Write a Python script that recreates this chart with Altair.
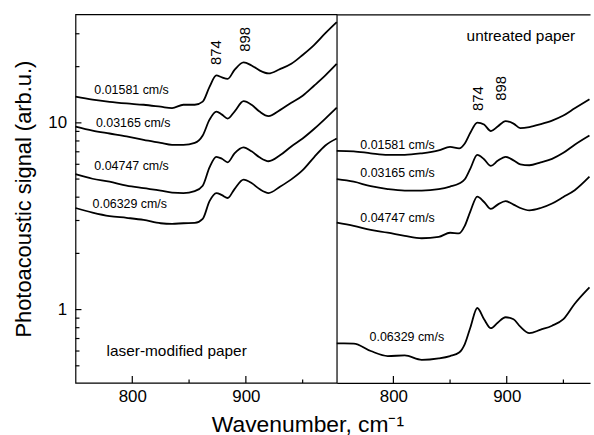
import altair as alt
import pandas as pd

FONT = "Liberation Sans"

# ---------------- data ----------------
speeds = ["0.01581 cm/s", "0.03165 cm/s", "0.04747 cm/s", "0.06329 cm/s"]

# left panel: laser-modified paper
x_left = [750, 765, 780, 795, 810, 825, 835, 845, 855, 862, 868, 874, 879, 884,
          890, 898, 905, 912, 920, 930, 940, 950, 960, 970, 980]
left_01581 = [13.8, 13.3, 12.95, 12.7, 12.5, 12.2, 12.0, 12.5, 12.5, 13.0, 15.6, 17.96, 17.5, 17.2,
              19.2, 21.1, 20.3, 19.1, 18.4, 19.4, 20.7, 23.1, 26.1, 30.2, 34.6]
left_03165 = [9.56, 9.10, 8.77, 8.46, 8.10, 7.81, 7.62, 7.62, 7.81, 8.56, 10.4, 11.5, 11.07, 10.54,
              11.5, 13.06, 12.5, 11.5, 10.87, 11.7, 12.82, 13.97, 15.8, 17.96, 20.7]
left_04747 = [5.31, 5.02, 4.84, 4.61, 4.47, 4.34, 4.23, 4.21, 4.31, 4.61, 5.78, 6.58, 6.42, 6.15,
              6.87, 7.39, 7.04, 6.54, 6.23, 6.7, 7.48, 8.25, 9.27, 10.54, 12.06]
left_06329 = [3.50, 3.31, 3.17, 3.10, 3.02, 2.90, 2.88, 2.90, 2.91, 3.06, 3.81, 4.21, 4.10, 3.96,
              4.42, 4.96, 4.76, 4.42, 4.21, 4.55, 4.98, 5.58, 6.54, 7.57, 8.25]

# right panel: untreated paper
x_right = [750, 765, 780, 795, 810, 825, 840, 850, 858, 863, 868, 874, 880, 886,
           892, 899, 906, 912, 920, 930, 940, 950, 960, 973]
right_01581 = [7.08, 7.04, 6.87, 6.74, 6.74, 6.87, 7.12, 7.43, 7.30, 7.76, 8.88, 10.04, 9.79, 9.04,
               9.56, 10.22, 9.91, 9.38, 9.50, 9.85, 10.29, 10.94, 11.96, 13.39]
right_03165 = [4.99, 4.84, 4.58, 4.42, 4.34, 4.34, 4.42, 4.56, 4.73, 4.99, 5.71, 6.74, 6.38, 5.89,
               6.26, 6.58, 6.30, 6.00, 5.93, 6.15, 6.42, 6.91, 7.64, 8.56]
right_04747 = [2.92, 2.81, 2.67, 2.58, 2.48, 2.41, 2.45, 2.58, 2.56, 2.81, 3.37, 4.03, 3.77, 3.46,
               3.65, 3.81, 3.65, 3.50, 3.40, 3.50, 3.70, 4.01, 4.36, 5.15]
right_06329 = [0.659, 0.658, 0.600, 0.564, 0.568, 0.538, 0.548, 0.564, 0.589, 0.654, 0.805, 1.02, 0.888, 0.795,
               0.851, 0.910, 0.888, 0.810, 0.748, 0.781, 0.820, 0.888, 1.074, 1.314]

# label anchors (data coordinates)
left_label_x = [766.6, 768.0, 766.6, 765.0]
left_label_y = [14.98, 9.95, 5.86, 3.66]
right_label_x = [770.8, 770.8, 770.8, 779.0]
right_label_y = [7.64, 5.39, 3.11, 0.71]

peak_text = ["874", "898"]
left_peak_x = [873.6, 899.3]
left_peak_y = [23.8, 28.0]
right_peak_x = [874.9, 895.4]
right_peak_y = [13.5, 15.3]

panel_names = ["laser-modified paper", "untreated paper"]
panel_name_x = [777.4, 864.6]
panel_name_y = [0.597, 29.1]

x_tick_labels = [800, 900]
x_minor_ticks = [850, 950]
y_tick_labels = [1, 10]
y_minor_ticks = [0.5, 0.6, 0.7, 0.8, 0.9, 2, 3, 4, 5, 6, 7, 8, 9, 20, 30]

# ---------------- layout ----------------
H = 371
WL = 263
WR = 255
ys = alt.Scale(type="log", domain=[0.405, 38.1], nice=False)
xsl = alt.Scale(domain=[750, 980], nice=False, zero=False)
xsr = alt.Scale(domain=[750, 973.5], nice=False, zero=False)


def long_df(xs, series):
    rows = []
    for name, vals in zip(speeds, series):
        for xv, yv in zip(xs, vals):
            rows.append({"x": xv, "y": yv, "s": name})
    return pd.DataFrame(rows)


def line_layer(df, xs, xaxis, yaxis):
    return alt.Chart(df).mark_line(color="black", strokeWidth=1.8, interpolate="monotone").encode(
        x=alt.X("x:Q", scale=xs, axis=xaxis),
        y=alt.Y("y:Q", scale=ys, axis=yaxis),
        detail="s:N",
    )


def text_layer(xv, yv, labels, xs, **kw):
    df = pd.DataFrame({"x": xv, "y": yv, "t": labels})
    return alt.Chart(df).mark_text(font=FONT, color="black", **kw).encode(
        x=alt.X("x:Q", scale=xs, axis=None),
        y=alt.Y("y:Q", scale=ys, axis=None),
        text="t:N",
    )


def x_ticks(vals, xs, length):
    df = pd.DataFrame({"t": vals})
    return alt.Chart(df).mark_rule(color="black", strokeWidth=1.2).encode(
        x=alt.X("t:Q", scale=xs, axis=None),
        y=alt.value(H),
        y2=alt.value(H - length),
    )


def y_ticks(vals, length):
    df = pd.DataFrame({"t": vals})
    return alt.Chart(df).mark_rule(color="black", strokeWidth=1.2).encode(
        y=alt.Y("t:Q", scale=ys, axis=None),
        x=alt.value(0),
        x2=alt.value(length),
    )


left_x_axis = alt.Axis(
    values=x_tick_labels, format="d", ticks=False, domain=False, grid=False,
    labelFont=FONT, labelFontSize=17, labelColor="black", labelPadding=6,
    title="Wavenumber, cm⁻¹", titleFont=FONT, titleFontSize=23, titleFontWeight="normal",
    titleColor="black", titleX=233.5, titleY=49, titleAlign="center", titleBaseline="alphabetic",
)
left_y_axis = alt.Axis(
    values=y_tick_labels, format="~g", ticks=False, domain=False, grid=False,
    labelFont=FONT, labelFontSize=17, labelColor="black", labelPadding=9,
    title="Photoacoustic signal (arb.u.)", titleFont=FONT, titleFontSize=22,
    titleFontWeight="normal", titleColor="black", titleAngle=270, titleX=-45, titleY=185.5,
    titleAlign="center", titleBaseline="alphabetic",
)
right_x_axis = alt.Axis(
    values=x_tick_labels, format="d", ticks=False, domain=True, domainColor="black",
    domainWidth=1.2, grid=False, labelFont=FONT, labelFontSize=17, labelColor="black",
    labelPadding=6, title=None,
)
top_axis = alt.Axis(
    orient="top", labels=False, ticks=False, domain=True, domainColor="black",
    domainWidth=1.2, grid=False, title=None,
)

left = alt.layer(
    line_layer(long_df(x_left, [left_01581, left_03165, left_04747, left_06329]), xsl, left_x_axis, left_y_axis),
    x_ticks(x_tick_labels, xsl, 7),
    x_ticks(x_minor_ticks, xsl, 3.5),
    y_ticks(y_tick_labels, 6),
    y_ticks(y_minor_ticks, 4),
    text_layer(left_label_x, left_label_y, speeds, xsl, align="left", baseline="middle", fontSize=12.5),
    text_layer(left_peak_x, left_peak_y, peak_text, xsl, align="center", baseline="middle", fontSize=15, angle=270),
    text_layer([panel_name_x[0]], [panel_name_y[0]], [panel_names[0]], xsl, align="left", baseline="middle", fontSize=15.5),
).resolve_axis(x="independent", y="independent").properties(width=WL, height=H)

top_border = alt.Chart(pd.DataFrame({"t": x_tick_labels})).mark_rule(opacity=0).encode(
    x=alt.X("t:Q", scale=xsr, axis=top_axis)
)

right = alt.layer(
    line_layer(long_df(x_right, [right_01581, right_03165, right_04747, right_06329]), xsr, right_x_axis, None),
    x_ticks(x_tick_labels, xsr, 7),
    x_ticks(x_minor_ticks, xsr, 3.5),
    text_layer(right_label_x, right_label_y, speeds, xsr, align="left", baseline="middle", fontSize=12.5),
    text_layer(right_peak_x, right_peak_y, peak_text, xsr, align="center", baseline="middle", fontSize=15, angle=270),
    text_layer([panel_name_x[1]], [panel_name_y[1]], [panel_names[1]], xsr, align="left", baseline="middle", fontSize=15.5),
    top_border,
).resolve_axis(x="independent").properties(
    width=WR, height=H, view=alt.ViewBackground(stroke="transparent")
)

chart = alt.hconcat(left, right, spacing=0, bounds="flush").configure_view(
    stroke="black", strokeWidth=1.2
).properties(
    padding={"left": 12, "top": 12, "right": 0, "bottom": 0},
    background="white",
)

chart.save("out.html", embed_options={"renderer": "svg", "actions": False})
